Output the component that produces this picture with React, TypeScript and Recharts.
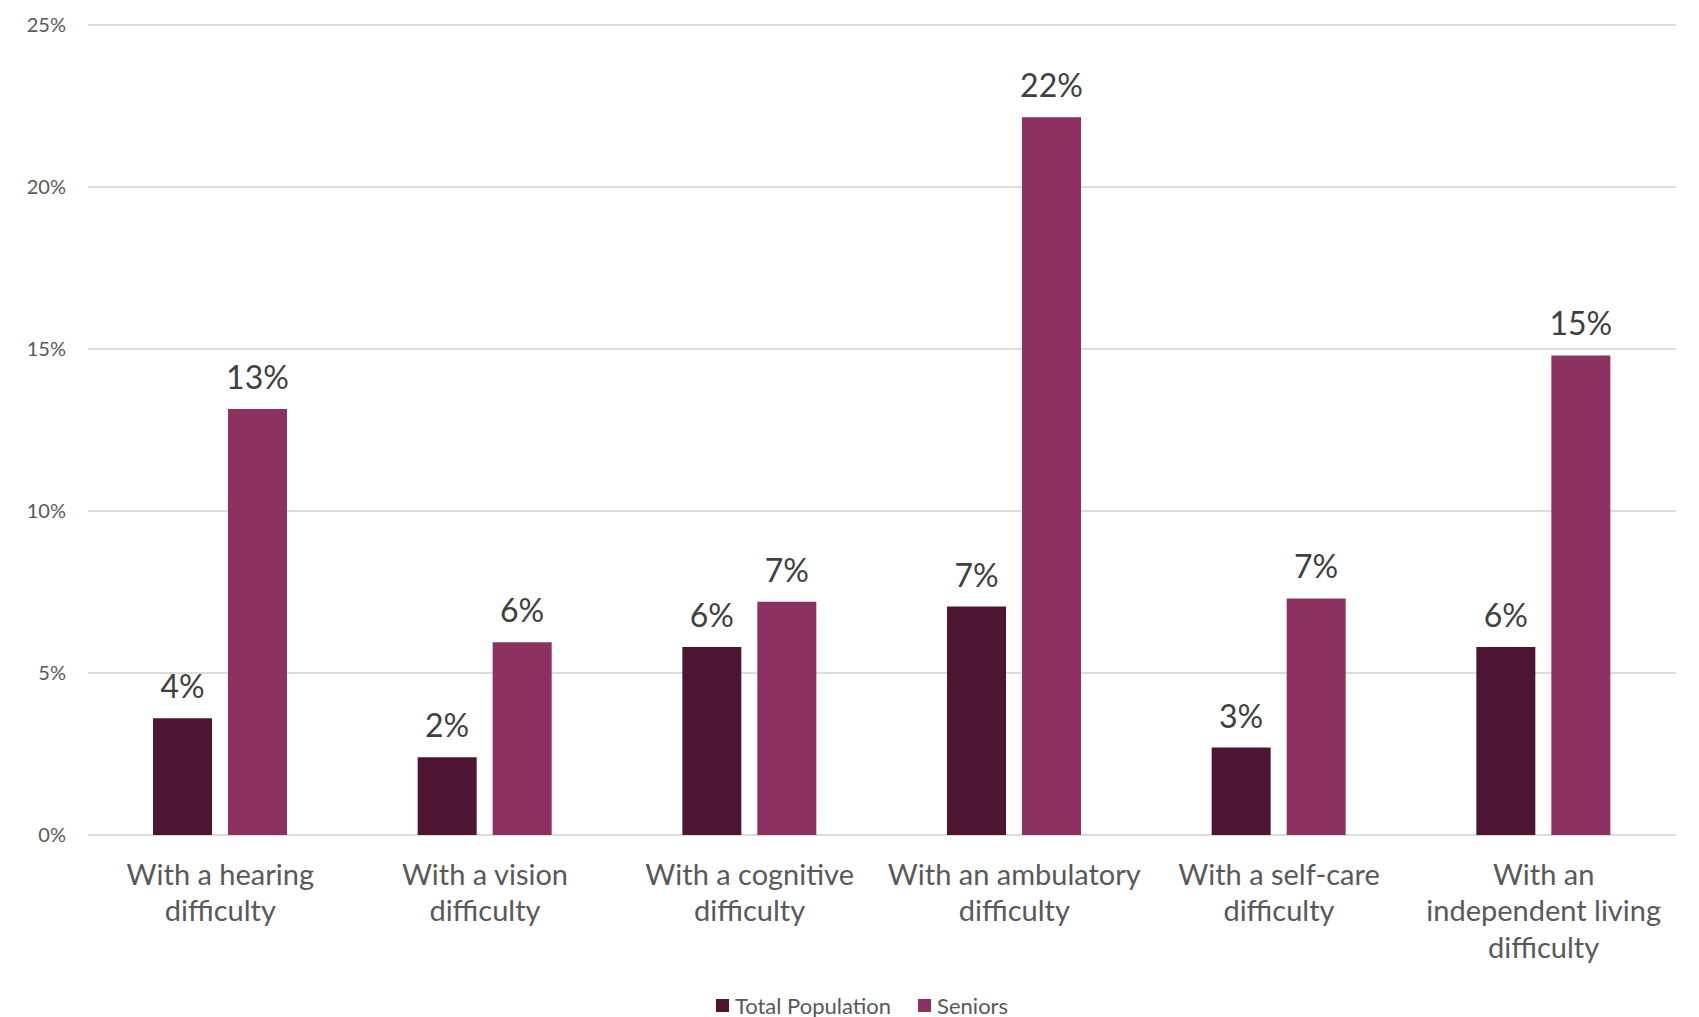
import React from "react"
import { BarChart, Bar, XAxis, YAxis, CartesianGrid, Legend, LabelList, Text } from "recharts"

// categories, with explicit line breaks for the axis labels
const categories = [
  "With a hearing\ndifficulty",
  "With a vision\ndifficulty",
  "With a cognitive\ndifficulty",
  "With an ambulatory\ndifficulty",
  "With a self-care\ndifficulty",
  "With an\nindependent living\ndifficulty",
]

const totalPopulation = [3.6, 2.4, 5.8, 7.05, 2.7, 5.8]
const seniors = [13.15, 5.95, 7.2, 22.15, 7.3, 14.8]

const yTicks = [0, 5, 10, 15, 20, 25]

const TOTAL_COLOR = "#4e1533"
const SENIORS_COLOR = "#8d3161"
const FONT = "Lato, 'Open Sans', sans-serif"

const data = categories.map((name, i) => ({
  name,
  total: totalPopulation[i],
  seniors: seniors[i],
}))

function CategoryTick(props: any) {
  const { x, y, payload } = props
  const lines: string[] = String(payload.value).split("\n")
  return (
    <g>
      {lines.map((line, i) => (
        <Text
          key={i}
          x={x}
          y={y + i * 36.5}
          textAnchor="middle"
          verticalAnchor="start"
          fontSize={29}
          fontFamily={FONT}
          fill="#595959"
        >
          {line}
        </Text>
      ))}
    </g>
  )
}

function LegendContent() {
  const items = [
    { label: "Total Population", color: TOTAL_COLOR },
    { label: "Seniors", color: SENIORS_COLOR },
  ]
  return (
    <div
      style={{
        height: 24,
        display: "flex",
        justifyContent: "center",
        alignItems: "center",
        gap: 27,
        fontFamily: FONT,
        fontSize: 22,
        color: "#595959",
        paddingLeft: 48,
      }}
    >
      {items.map((it) => (
        <div key={it.label} style={{ display: "flex", alignItems: "center", gap: 6 }}>
          <span style={{ width: 13, height: 13, background: it.color, display: "inline-block" }} />
          <span>{it.label}</span>
        </div>
      ))}
    </div>
  )
}

export default function App() {
  const pct = (v: number) => `${Math.round(v)}%`
  return (
    <div style={{ position: "absolute", left: 0, top: 0, background: "#fff" }}>
      <BarChart
        width={1699}
        height={1017}
        data={data}
        margin={{ top: 25, right: 23, left: 0, bottom: 0 }}
        barSize={59}
        barGap={16}
      >
        <CartesianGrid vertical={false} stroke="#dcdcdc" strokeWidth={2} />
        <XAxis
          dataKey="name"
          axisLine={false}
          tickLine={false}
          tickSize={0}
          tickMargin={29}
          height={158}
          interval={0}
          tick={<CategoryTick />}
        />
        <YAxis
          width={88}
          domain={[0, 25]}
          ticks={yTicks}
          tickFormatter={pct}
          axisLine={false}
          tickLine={false}
          tickSize={6}
          tickMargin={16}
          tick={{ fontSize: 20, fontFamily: FONT, fill: "#595959" }}
        />
        <Legend verticalAlign="bottom" content={<LegendContent />} />
        <Bar dataKey="total" name="Total Population" fill={TOTAL_COLOR} isAnimationActive={false}>
          <LabelList
            dataKey="total"
            position="top"
            offset={20}
            formatter={(v: any) => pct(Number(v))}
            style={{ fontSize: 32, fontFamily: FONT, fill: "#404040" }}
          />
        </Bar>
        <Bar dataKey="seniors" name="Seniors" fill={SENIORS_COLOR} isAnimationActive={false}>
          <LabelList
            dataKey="seniors"
            position="top"
            offset={20}
            formatter={(v: any) => pct(Number(v))}
            style={{ fontSize: 32, fontFamily: FONT, fill: "#404040" }}
          />
        </Bar>
      </BarChart>
    </div>
  )
}
